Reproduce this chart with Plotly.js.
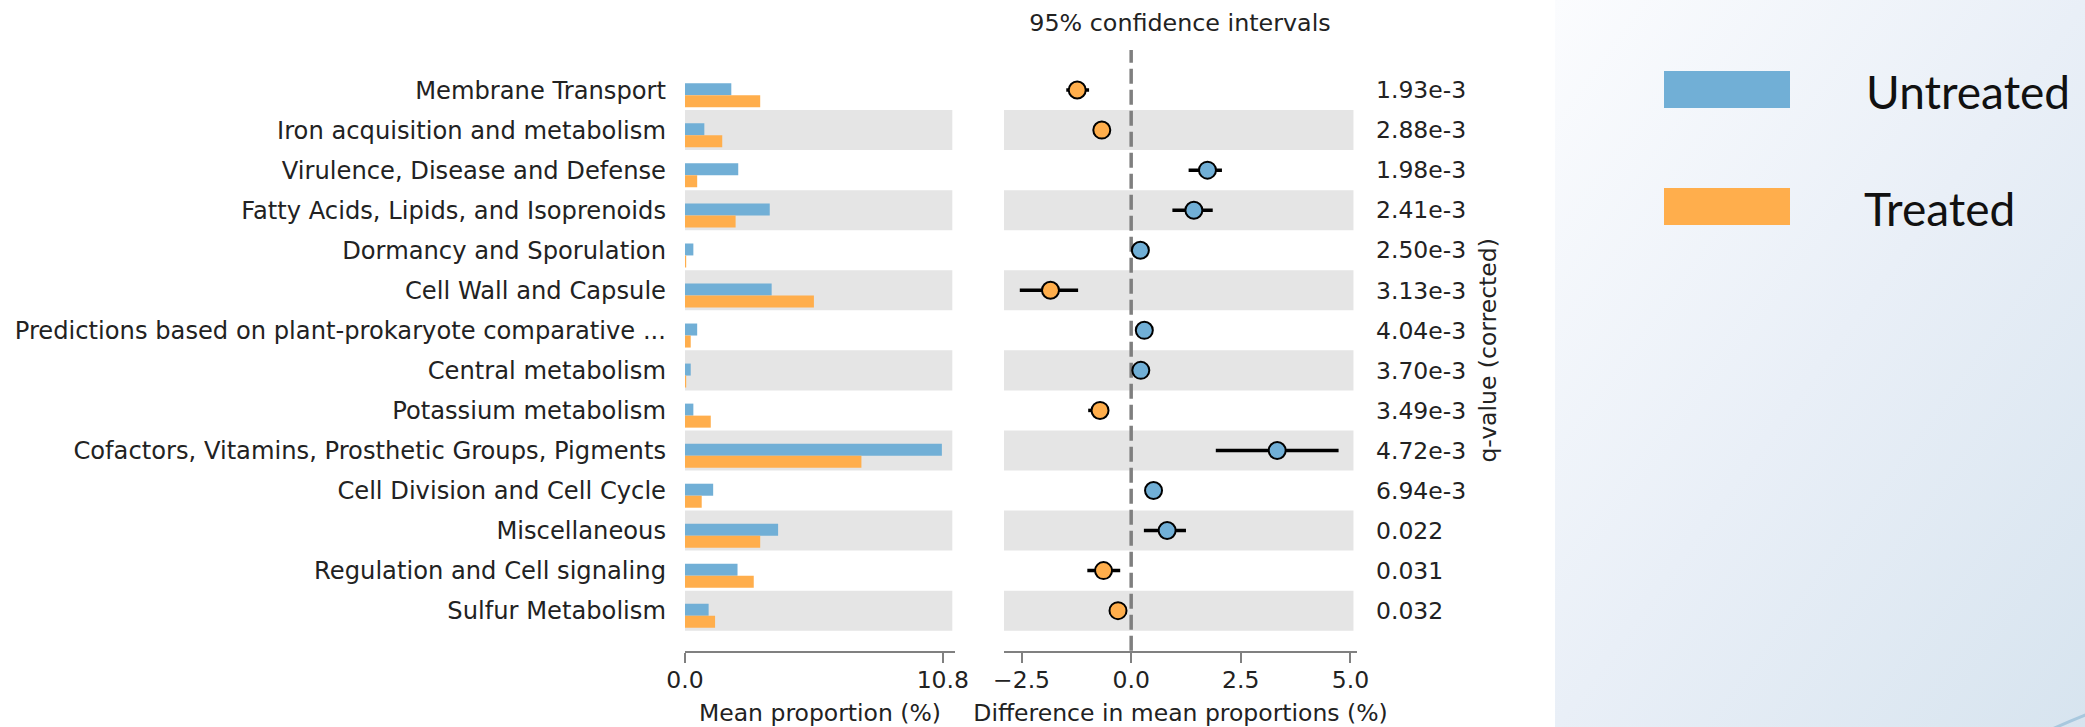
<!DOCTYPE html>
<html>
<head>
<meta charset="utf-8">
<script src="https://cdn.plot.ly/plotly-3.0.1.min.js"></script>
<style>
  html, body { margin: 0; padding: 0; background: #ffffff; }
  #chart { width: 2085px; height: 727px; }
</style>
</head>
<body>
<div id="chart"></div>
<script>
// ---- data ----
const categories = [
  "Membrane Transport",
  "Iron acquisition and metabolism",
  "Virulence, Disease and Defense",
  "Fatty Acids, Lipids, and Isoprenoids",
  "Dormancy and Sporulation",
  "Cell Wall and Capsule",
  "Predictions based on plant-prokaryote comparative ...",
  "Central metabolism",
  "Potassium metabolism",
  "Cofactors, Vitamins, Prosthetic Groups, Pigments",
  "Cell Division and Cell Cycle",
  "Miscellaneous",
  "Regulation and Cell signaling",
  "Sulfur Metabolism"
];
const untreated = [1.94, 0.81, 2.23, 3.55, 0.35, 3.63, 0.51, 0.24, 0.35, 10.76, 1.18, 3.90, 2.20, 0.99];
const treated   = [3.15, 1.56, 0.51, 2.12, 0.05, 5.40, 0.24, 0.05, 1.08, 7.39, 0.70, 3.15, 2.88, 1.26];
const diffMean  = [-1.23, -0.67, 1.74, 1.43, 0.21, -1.84, 0.30, 0.22, -0.71, 3.33, 0.51, 0.82, -0.63, -0.30];
const ciLow     = [-1.48, -0.76, 1.31, 0.94, 0.13, -2.54, 0.22, 0.14, -0.98, 1.93, 0.43, 0.29, -1.00, -0.38];
const ciHigh    = [-0.96, -0.58, 2.07, 1.86, 0.29, -1.21, 0.38, 0.30, -0.57, 4.73, 0.59, 1.25, -0.25, -0.22];
const qValues   = ["1.93e-3", "2.88e-3", "1.98e-3", "2.41e-3", "2.50e-3", "3.13e-3", "4.04e-3",
                   "3.70e-3", "3.49e-3", "4.72e-3", "6.94e-3", "0.022", "0.031", "0.032"];
const groupNames = ["Untreated", "Treated"];
const diffTicks = [-2.5, 0, 2.5, 5];

// ---- styling ----
const BLUE = "#71afd6";
const ORANGE = "#ffae4c";
const TXT = "#222222";
const AXC = "#808080";
const FONT = "DejaVu Sans, sans-serif";
const FS = 23.5;
const W = 2085, H = 727;

const catOrder = categories.slice().reverse();
const maxProp = Math.max(...untreated, ...treated);
const maxTick = +maxProp.toFixed(1);

const traces = [
  {
    type: "bar", orientation: "h", name: groupNames[0],
    x: untreated, y: categories, xaxis: "x", yaxis: "y",
    width: 0.3, offset: -0.13,
    marker: { color: BLUE, line: { width: 0 } },
    hoverinfo: "x+y"
  },
  {
    type: "bar", orientation: "h", name: groupNames[1],
    x: treated, y: categories, xaxis: "x", yaxis: "y",
    width: 0.3, offset: -0.43,
    marker: { color: ORANGE, line: { width: 0 } },
    hoverinfo: "x+y"
  },
  {
    type: "scatter", mode: "markers", name: "difference",
    x: diffMean, y: categories, xaxis: "x2", yaxis: "y2",
    marker: {
      size: 17,
      color: diffMean.map(d => d > 0 ? BLUE : ORANGE),
      line: { color: "#000000", width: 2 }
    },
    error_x: {
      type: "data", symmetric: false,
      array: ciHigh.map((h, i) => h - diffMean[i]),
      arrayminus: ciLow.map((l, i) => diffMean[i] - l),
      color: "#000000", thickness: 3.5, width: 0
    }
  }
];

// alternating grey bands
const shapes = [];
categories.forEach((c, i) => {
  if (i % 2 === 1) {
    const v = categories.length - 1 - i;
    ["x", "x2"].forEach((xr, k) => {
      shapes.push({
        type: "rect", layer: "below",
        xref: xr + " domain", yref: k === 0 ? "y" : "y2",
        x0: 0, x1: 0.99, y0: v - 0.5, y1: v + 0.5,
        fillcolor: "#e5e5e5", line: { width: 0 }
      });
    });
  }
});
// zero line (dashed)
shapes.push({
  type: "line", layer: "below",
  xref: "x2", yref: "y2 domain", x0: 0, x1: 0, y0: 0, y1: 1,
  line: { color: "#7f7f7f", width: 3.5, dash: "15px,6px" }
});
// legend swatches
const px = (v) => v / W, py = (v) => 1 - v / H;
shapes.push({ type: "rect", xref: "paper", yref: "paper", x0: px(1664), x1: px(1790), y0: py(108), y1: py(71),
  fillcolor: BLUE, line: { width: 0 } });
shapes.push({ type: "rect", xref: "paper", yref: "paper", x0: px(1664), x1: px(1790), y0: py(225), y1: py(188),
  fillcolor: ORANGE, line: { width: 0 } });
// decorative arc corner
shapes.push({ type: "path", xref: "paper", yref: "paper",
  path: `M ${px(2050)} ${py(730)} Q ${px(2068)} ${py(722)} ${px(2088)} ${py(714)}`,
  line: { color: "#a8c8de", width: 3 } });

const bgSvg = "<svg xmlns='http://www.w3.org/2000/svg' width='530' height='727' viewBox='0 0 530 727'>" +
  "<defs><linearGradient id='g' x1='0' y1='0' x2='1' y2='1'>" +
  "<stop offset='0' stop-color='#fbfcfe'/><stop offset='0.5' stop-color='#e9eff7'/><stop offset='1' stop-color='#d7e4ef'/>" +
  "</linearGradient></defs><rect width='530' height='727' fill='url(#g)'/></svg>";

const yDomain = [76.3 / H, 677 / H];

const layout = {
  width: W, height: H,
  margin: { l: 0, r: 0, t: 0, b: 0, pad: 0 },
  paper_bgcolor: "#ffffff",
  plot_bgcolor: "rgba(0,0,0,0)",
  showlegend: false,
  barmode: "overlay",
  font: { family: FONT, size: FS, color: TXT },
  title: {
    text: "95% confidence intervals",
    xref: "paper", yref: "paper",
    x: 1180 / W, xanchor: "center",
    y: 1 - 23 / H, yanchor: "middle",
    font: { family: FONT, size: 23.8, color: TXT }
  },
  xaxis: {
    domain: [685 / W, 955 / W], anchor: "y",
    range: [0, 11.31],
    showgrid: false, zeroline: false,
    showline: true, linecolor: AXC, linewidth: 2,
    ticks: "outside", ticklen: 10, tickwidth: 2, tickcolor: AXC,
    tickvals: [0, maxTick], ticktext: ["0.0", maxTick.toFixed(1)],
    ticklabelstandoff: -3,
    tickfont: { family: FONT, size: FS, color: TXT },
    title: { text: "Mean proportion (%)", standoff: 12, font: { family: FONT, size: FS, color: TXT } },
    fixedrange: true
  },
  yaxis: {
    domain: yDomain, anchor: "x",
    type: "category", categoryorder: "array", categoryarray: catOrder,
    range: [-1, categories.length],
    showgrid: false, zeroline: false, showline: false,
    ticks: "", ticklabelstandoff: 18,
    tickfont: { family: FONT, size: 24.2, color: TXT },
    fixedrange: true
  },
  xaxis2: {
    domain: [1004 / W, 1357 / W], anchor: "y2",
    range: [-2.9, 5.15],
    showgrid: false, zeroline: false,
    showline: true, linecolor: AXC, linewidth: 2,
    ticks: "outside", ticklen: 10, tickwidth: 2, tickcolor: AXC,
    tickvals: diffTicks, tickformat: ".1f",
    ticklabelstandoff: -3,
    tickfont: { family: FONT, size: FS, color: TXT },
    title: { text: "Difference in mean proportions (%)", standoff: 12, font: { family: FONT, size: FS, color: TXT } },
    fixedrange: true
  },
  yaxis2: {
    domain: yDomain, anchor: "x2", side: "right",
    type: "category", categoryorder: "array", categoryarray: catOrder,
    range: [-1, categories.length],
    showgrid: false, zeroline: false, showline: false,
    ticks: "", ticklabelstandoff: 18,
    tickvals: categories, ticktext: qValues,
    tickfont: { family: FONT, size: FS, color: TXT },
    title: { text: "q-value (corrected)", standoff: 14, font: { family: FONT, size: FS, color: TXT } },
    fixedrange: true
  },
  shapes: shapes,
  images: [{
    source: "data:image/svg+xml;charset=utf-8," + encodeURIComponent(bgSvg),
    xref: "paper", yref: "paper",
    x: 1555 / W, y: 1, sizex: 530 / W, sizey: 1,
    xanchor: "left", yanchor: "top",
    sizing: "stretch", layer: "below"
  }],
  annotations: [
    { text: groupNames[0], xref: "paper", yref: "paper", x: px(1864), y: py(91),
      xanchor: "left", yanchor: "middle", showarrow: false,
      font: { family: "Lato, sans-serif", size: 46, color: "#111111" } },
    { text: groupNames[1], xref: "paper", yref: "paper", x: px(1862), y: py(208),
      xanchor: "left", yanchor: "middle", showarrow: false,
      font: { family: "Lato, sans-serif", size: 46, color: "#111111" } }
  ]
};

Plotly.newPlot("chart", traces, layout, { displayModeBar: false, staticPlot: true });
</script>
</body>
</html>
